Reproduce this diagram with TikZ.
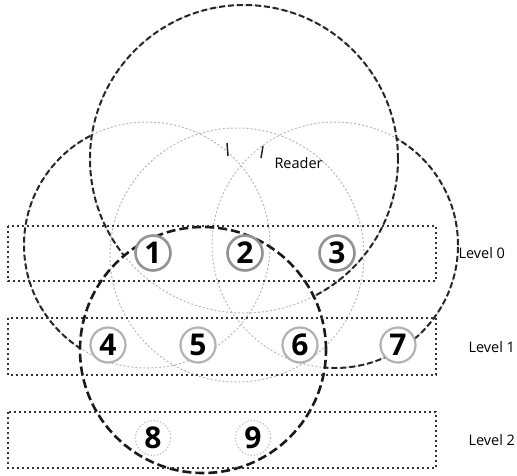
\documentclass[tikz,border=0pt]{standalone}
\usepackage{fontspec}
\setmainfont{Open Sans}
\begin{document}
\begin{tikzpicture}[x=1pt, y=-1pt,
    faint/.style={draw=gray!55, line width=1pt, dash pattern=on 2pt off 2pt},
    rim/.style={draw=black!85, line width=2pt, dash pattern=on 6pt off 3pt},
    rimbold/.style={draw=black!90, line width=2.6pt, dash pattern=on 9pt off 4pt},
    levelbox/.style={draw=black!80, line width=2.2pt, dash pattern=on 1.8pt off 3.2pt},
    tag/.style={circle, fill=white, minimum size=35pt, inner sep=0pt, font=\fontsize{30}{30}\selectfont\bfseries},
    tagA/.style={tag, draw=gray!85, line width=2.6pt},
    tagB/.style={tag, draw=gray!60, line width=2.2pt},
    tagC/.style={tag, draw=gray!50, line width=1.2pt, dotted},
    lvl/.style={font=\fontsize{14.5}{14.5}\selectfont, anchor=west}]
    \useasboundingbox (0,0) rectangle (517,475);

    % faint parts of the coverage circles
    \draw[faint] (147,245) circle [radius=123pt];
    \draw[faint] (335,245) circle [radius=123pt];
    \draw[faint] (237,255) circle [radius=127pt];
    \draw[faint] (244,159) circle [radius=154pt];

    % visible rims, cut away inside the upper and lower circle
    \begin{scope}[even odd rule]
        \clip (0,0) rectangle (517,475) (203,350) circle [radius=123pt];
        \draw[rim] (244,159) circle [radius=154pt];
        \begin{scope}[even odd rule]
            \clip (0,0) rectangle (517,475) (244,159) circle [radius=154pt];
            \draw[rim] (147,245) circle [radius=123pt];
            \draw[rim] (335,245) circle [radius=123pt];
        \end{scope}
    \end{scope}
    \draw[rimbold] (203,350) circle [radius=123pt];

    % reader antennas
    \draw[black!85, line width=1.5pt] (227,143) -- (228,156);
    \draw[black!85, line width=1.5pt] (263,146) -- (261,158);
    \node[anchor=west, font=\fontsize{14.5}{14.5}\selectfont] (reader) at (271,163) {Reader};

    % levels
    \draw[levelbox] (8,226) rectangle (436,281);
    \draw[levelbox] (8,318) rectangle (436,375);
    \draw[levelbox] (8,412) rectangle (436,468);
    \node[lvl] (L0) at (455,253) {Level 0};
    \node[lvl] (L1) at (465,347) {Level 1};
    \node[lvl] (L2) at (465,440) {Level 2};

    \node[tagA] (n1) at (153,253) {1};
    \node[tagA] (n2) at (245,253) {2};
    \node[tagA] (n3) at (337,253) {3};
    \node[tagB] (n4) at (108,345) {4};
    \node[tagB] (n5) at (198,345) {5};
    \node[tagB] (n6) at (300,345) {6};
    \node[tagB] (n7) at (398,345) {7};
    \node[tagC] (n8) at (153,438) {8};
    \node[tagC] (n9) at (253,438) {9};
\end{tikzpicture}
\end{document}
